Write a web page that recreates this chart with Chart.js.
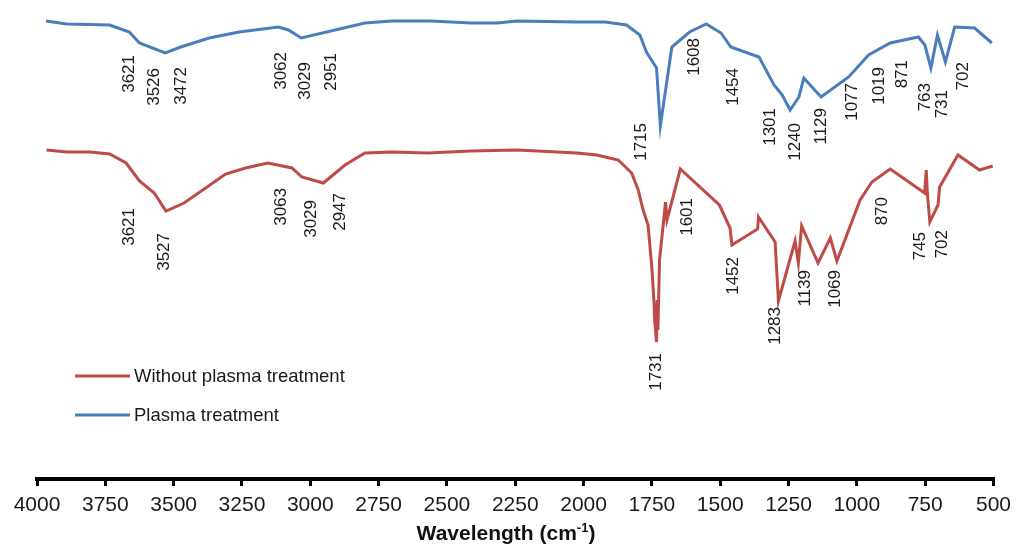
<!DOCTYPE html>
<html>
<head>
<meta charset="utf-8">
<script src="https://cdn.jsdelivr.net/npm/chart.js@4/dist/chart.umd.min.js"></script>
<style>
  html, body { margin: 0; padding: 0; background: #fff; }
  #wrap { width: 1018px; height: 549px; }
</style>
</head>
<body>
<div id="wrap"><canvas id="c" width="1018" height="549"></canvas></div>
<script>
// ---- Data (wavenumber in cm-1, relative transmittance a.u.) ----
const seriesNames = ["Without plasma treatment", "Plasma treatment"];

const plasmaX = [3967,3892,3734,3662,3625,3531,3474,3370,3261,3116,3080,3033,2800,2703,2558,2413,2316,2243,2024,1921,1843,1794,1770,1733,1719,1677,1612,1551,1497,1461,1358,1303,1273,1244,1212,1194,1131,1030,957,878,775,751,729,705,676,642,569,506];
const plasmaY = [458,455,454,447,436,426,432,441,447,452,449,441,456,458,458,456,456,458,457,457,454,444,427,411,353,432,447,455,446,432,422,394,384,369,382,401,382,402,424,436,442,434,411,444,417,452,451,436];

const untreatedX = [3965,3892,3807,3734,3674,3625,3571,3528,3462,3383,3310,3237,3155,3067,3031,2952,2873,2800,2703,2570,2413,2243,2024,1952,1873,1824,1800,1782,1764,1750,1742,1740,1733,1730,1728,1722,1700,1695,1685,1646,1503,1464,1457,1363,1360,1299,1287,1226,1214,1202,1142,1097,1073,988,945,878,752,746,742,733,703,697,630,551,503];
const untreatedY = [329,327,327,325,316,298,286,268,276,291,305,311,316,311,302,296,314,326,327,326,328,329,326,324,319,306,289,269,254,211,176,159,137,179,149,219,277,259,269,310,274,251,234,250,262,237,178,238,216,253,216,241,218,279,297,310,286,309,286,257,274,292,324,309,313];

const xTickStep = 250;
const xMin = 500, xMax = 4000;

// peak annotations: text, anchor wavenumber, anchor value (top end of text)
const plasmaPeakText = ["3621","3526","3472","3062","3029","2951","1715","1608","1454","1301","1240","1129","1077","1019","871","763","731","702"];
const plasmaPeakX    = [3662,3571,3472,3105,3018,2923,1788,1595,1453,1315,1224,1129,1017,918,835,751,686,609];
const plasmaPeakY    = [424,411,412,427,417,426,356,441,411,371,356,371,396,412,419,396,389,417];

const untreatedPeakText = ["3621","3527","3063","3029","2947","1731","1601","1452","1283","1139","1069","870","745","702"];
const untreatedPeakX    = [3662,3534,3105,2996,2890,1733,1621,1453,1300,1188,1079,908,769,686];
const untreatedPeakY    = [271,246,291,279,286,126,281,222,172,209,209,282,247,249];

const RED = "#be4b48";
const BLUE = "#4a7ebb";
const FONT = "'Liberation Sans', Arial, Helvetica, sans-serif";

function pts(xs, ys) { return xs.map((x, i) => ({ x: x, y: ys[i] })); }

const peakLabelPlugin = {
  id: "peakLabels",
  afterDatasetsDraw(chart) {
    const ctx = chart.ctx, sx = chart.scales.x, sy = chart.scales.y;
    ctx.save();
    ctx.fillStyle = "#1a1a1a";
    ctx.font = "17px " + FONT;
    ctx.textAlign = "right";
    ctx.textBaseline = "middle";
    const draw = (texts, xs, ys) => {
      texts.forEach((t, i) => {
        const px = sx.getPixelForValue(xs[i]);
        const py = sy.getPixelForValue(ys[i]);
        ctx.save();
        ctx.translate(px, py);
        ctx.rotate(-Math.PI / 2);
        ctx.fillText(t, 0, 0);
        ctx.restore();
      });
    };
    draw(plasmaPeakText, plasmaPeakX, plasmaPeakY);
    draw(untreatedPeakText, untreatedPeakX, untreatedPeakY);
    ctx.restore();
  }
};

const legendPlugin = {
  id: "customLegend",
  afterDraw(chart) {
    const ctx = chart.ctx;
    ctx.save();
    const items = [
      { label: chart.data.datasets[0].label, color: chart.data.datasets[0].borderColor, y: 376 },
      { label: chart.data.datasets[1].label, color: chart.data.datasets[1].borderColor, y: 415 }
    ];
    items.forEach(it => {
      ctx.strokeStyle = it.color;
      ctx.lineWidth = 3;
      ctx.beginPath();
      ctx.moveTo(75, it.y);
      ctx.lineTo(130, it.y);
      ctx.stroke();
      ctx.fillStyle = "#1a1a1a";
      ctx.font = "18.5px " + FONT;
      ctx.textAlign = "left";
      ctx.textBaseline = "middle";
      ctx.fillText(it.label, 134, it.y + 1);
    });
    ctx.restore();
  }
};

const axisTitlePlugin = {
  id: "axisTitle",
  afterDraw(chart) {
    const ctx = chart.ctx;
    ctx.save();
    ctx.fillStyle = "#111";
    ctx.textBaseline = "alphabetic";
    ctx.textAlign = "left";
    const main = "Wavelength (cm";
    const sup = "-1";
    const close = ")";
    ctx.font = "bold 21px " + FONT;
    const w1 = ctx.measureText(main).width;
    const w3 = ctx.measureText(close).width;
    ctx.font = "bold 13px " + FONT;
    const w2 = ctx.measureText(sup).width;
    const total = w1 + w2 + w3;
    let x = 506 - total / 2;
    const base = 540;
    ctx.font = "bold 21px " + FONT;
    ctx.fillText(main, x, base);
    x += w1;
    ctx.font = "bold 13px " + FONT;
    ctx.fillText(sup, x, base - 8);
    x += w2;
    ctx.font = "bold 21px " + FONT;
    ctx.fillText(close, x, base);
    ctx.restore();
  }
};

new Chart(document.getElementById("c"), {
  type: "line",
  data: {
    datasets: [
      { label: seriesNames[0], data: pts(untreatedX, untreatedY), borderColor: RED, borderWidth: 3, pointRadius: 0, tension: 0, fill: false },
      { label: seriesNames[1], data: pts(plasmaX, plasmaY), borderColor: BLUE, borderWidth: 3, pointRadius: 0, tension: 0, fill: false }
    ]
  },
  options: {
    responsive: false,
    animation: false,
    devicePixelRatio: 1,
    layout: { padding: { left: 37, right: 19, top: 9, bottom: 0 } },
    plugins: { legend: { display: false }, tooltip: { enabled: false } },
    scales: {
      x: {
        type: "linear",
        reverse: true,
        min: xMin,
        max: xMax,
        afterFit(scale) { scale.height = 70; },
        ticks: {
          stepSize: xTickStep, color: "#1a1a1a", font: { size: 21, family: FONT },
          padding: 7, maxRotation: 0, autoSkip: false,
          callback: (v) => String(v)
        },
        grid: { drawOnChartArea: false, drawTicks: true, tickLength: 7, color: "#000", lineWidth: 3 },
        border: { display: true, color: "#000", width: 4 }
      },
      y: { display: false, min: 0, max: 470 }
    }
  },
  plugins: [peakLabelPlugin, legendPlugin, axisTitlePlugin]
});
</script>
</body>
</html>
